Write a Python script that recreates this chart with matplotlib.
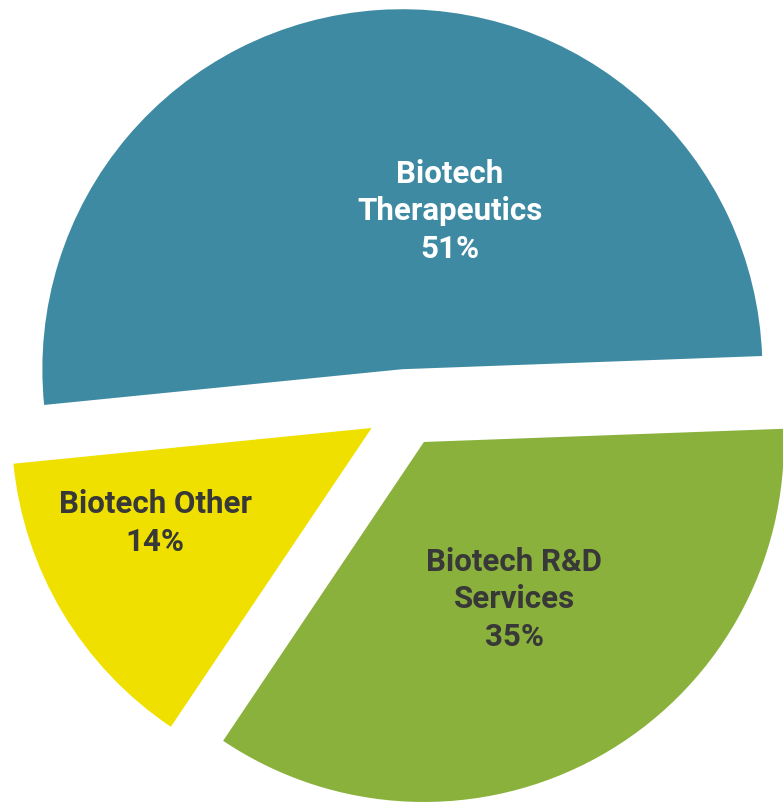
import matplotlib
matplotlib.use('Agg')
import matplotlib.pyplot as plt

# slice data
labels = ['Biotech\nTherapeutics', 'Biotech Other', 'Biotech R&D\nServices']
shares = [51, 14, 35]
colors = ['#3f8aa3', '#efe000', '#8ab13b']
text_colors = ['white', '#383838', '#383838']
# where each label sits (data coords, pie centre at 0,0)
label_pos = [(0.125, 0.547), (-0.694, -0.319), (0.303, -0.531)]

plt.rcParams['font.family'] = ['Roboto', 'DejaVu Sans']

fig = plt.figure(figsize=(7.83, 8.02), dpi=100)
ax = fig.add_axes([0, 0, 1, 1])

ax.pie(shares, colors=colors, startangle=2.1, counterclock=True,
       explode=[0.108] * 3, radius=1.0,
       wedgeprops=dict(linewidth=0, antialiased=True))

for lab, val, col, (tx, ty) in zip(labels, shares, text_colors, label_pos):
    ax.text(tx, ty, f"{lab}\n{val}%", ha='center', va='center',
            fontsize=22.5, fontweight='bold', color=col, linespacing=1.31)

ax.set_xlim(-405 / 360, 378 / 360)
ax.set_ylim(-394 / 360, 408 / 360)
ax.set_aspect('equal')
ax.axis('off')

plt.savefig('out.png', dpi=100)
plt.close()
